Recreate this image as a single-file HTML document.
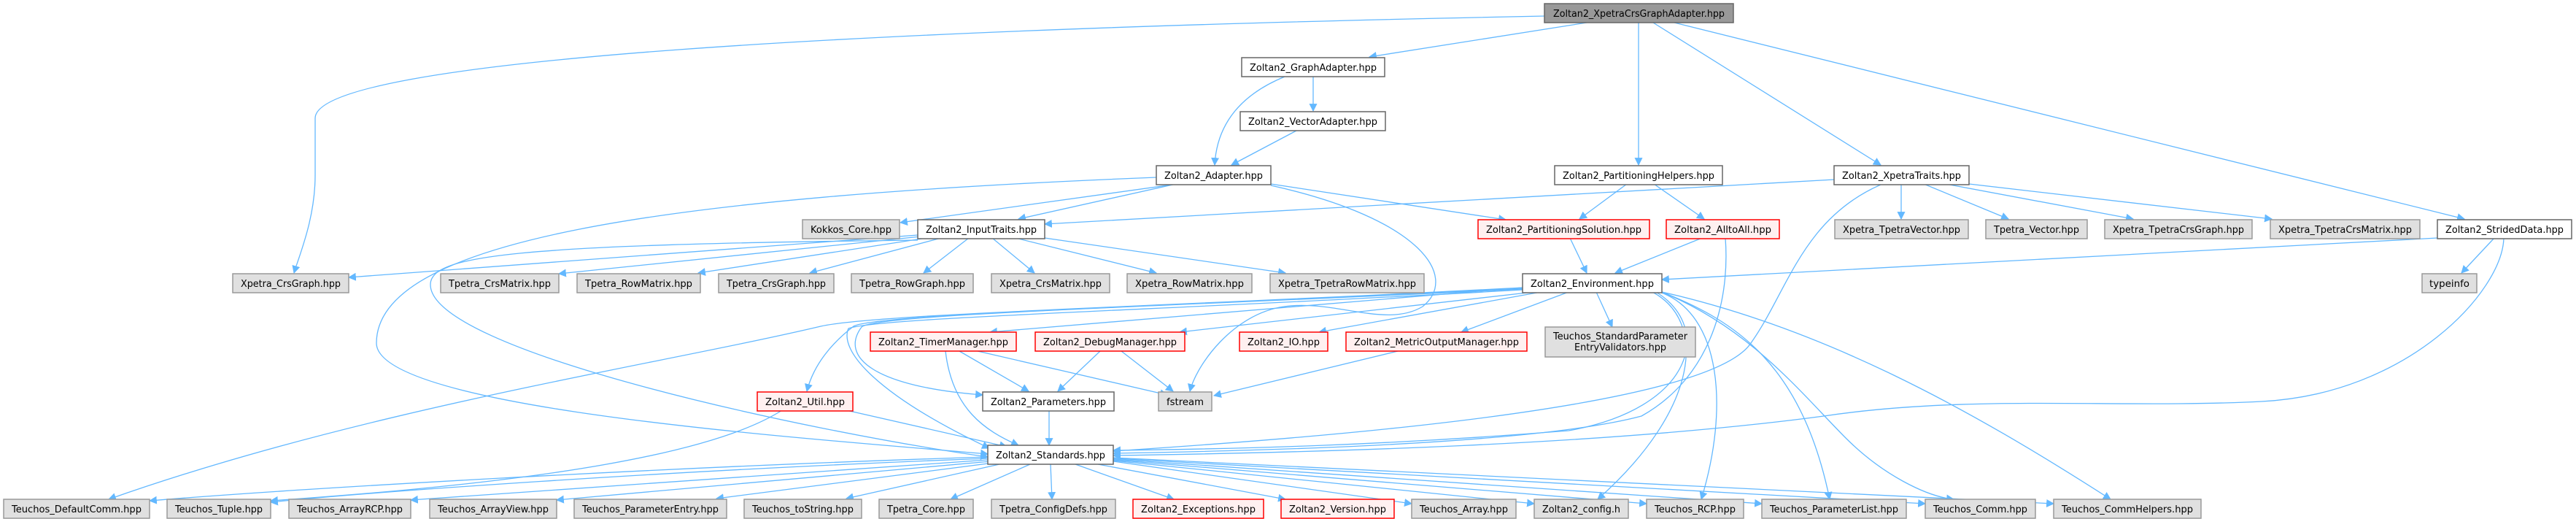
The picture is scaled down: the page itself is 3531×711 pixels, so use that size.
<!DOCTYPE html>
<html><head><meta charset="utf-8"><style>
html,body{margin:0;padding:0;background:#fff;}
svg{display:block;}
text{font-family:"DejaVu Sans","Liberation Sans",sans-serif;font-size:13px;fill:#000;}
.g{fill:#e0e0e0;stroke:#999;stroke-width:1.5}
.w{fill:#fff;stroke:#666;stroke-width:1.5}
.r{fill:#fff0f0;stroke:#f00;stroke-width:1.5}
.t{fill:#999;stroke:#666;stroke-width:1.5}
path.e{fill:none;stroke:#63b8ff;stroke-width:1.3}
</style></head><body>
<svg width="3531" height="711" viewBox="0 0 3531 711" xmlns="http://www.w3.org/2000/svg">
<defs><marker id="a" viewBox="0 0 10 10" refX="9" refY="5" markerWidth="11" markerHeight="11" markerUnits="userSpaceOnUse" orient="auto"><path d="M0,0 L10,5 L0,10 z" fill="#63b8ff"/></marker></defs>
<g marker-end="url(#a)">
<!-- top -->
<path class="e" d="M2117,22 C1200,40 432,80 432,162 L432,240 C432,300 410,350 403,374"/>
<path class="e" d="M2175,31 L1877,78"/>
<path class="e" d="M2246,31 L2246,226"/>
<path class="e" d="M2266,31 L2578,226"/>
<path class="e" d="M2295,31 L3378,300"/>
<path class="e" d="M1800,105 L1800,152"/>
<path class="e" d="M1761,105 C1700,130 1668,170 1665,226"/>
<path class="e" d="M1777,179 L1688,226"/>
<!-- Adapter -->
<path class="e" d="M1614,252 L1234,305"/>
<path class="e" d="M1612,252 L1396,300"/>
<path class="e" d="M1742,252 L2064,301"/>
<path class="e" d="M1742,254 C1950,300 2000,380 1950,420 C1900,450 1830,410 1760,420 C1690,430 1640,500 1631,536"/>
<path class="e" d="M1585,243 C900,270 516,330 516,470 C516,560 1100,600 1354,622"/>
<!-- InputTraits -->
<path class="e" d="M1258,322 L478,380"/>
<path class="e" d="M1262,324 L766,375"/>
<path class="e" d="M1270,326 L957,374"/>
<path class="e" d="M1290,326 L1110,374"/>
<path class="e" d="M1328,326 L1266,374"/>
<path class="e" d="M1360,326 L1418,374"/>
<path class="e" d="M1392,326 L1585,374"/>
<path class="e" d="M1432,326 L1762,374"/>
<path class="e" d="M1258,329 C700,335 590,350 590,390 C590,480 1100,590 1354,626"/>
<!-- Helpers -->
<path class="e" d="M2514,246 L1432,307"/>
<path class="e" d="M2230,252 L2165,300"/>
<path class="e" d="M2267,252 L2336,300"/>
<path class="e" d="M2152,326 L2175,374"/>
<path class="e" d="M2333,326 L2214,374"/>
<path class="e" d="M2365,326 C2372,420 2340,520 2250,570 C2100,610 1700,618 1526,621"/>
<!-- XpetraTraits -->
<path class="e" d="M2606,252 L2606,300"/>
<path class="e" d="M2637,252 L2753,300"/>
<path class="e" d="M2667,252 L2924,300"/>
<path class="e" d="M2699,252 L3114,300"/>
<path class="e" d="M2578,253 C2470,300 2450,400 2400,470 C2340,560 1800,600 1526,618"/>
<!-- StridedData -->
<path class="e" d="M3341,326 L2278,383"/>
<path class="e" d="M3419,326 L3374,374"/>
<path class="e" d="M3432,326 C3430,400 3300,540 3100,550 C2900,560 2700,540 2500,570 C2200,610 1800,620 1526,624"/>
<!-- Environment -->
<path class="e" d="M2087,394 L1357,455"/>
<path class="e" d="M2102,400 L1617,455"/>
<path class="e" d="M2112,400 L1808,455"/>
<path class="e" d="M2150,400 L2003,455"/>
<path class="e" d="M2188,400 L2210,448"/>
<path class="e" d="M2087,395 C1600,420 1200,430 1170,447 C1140,470 1115,500 1106,536"/>
<path class="e" d="M2087,394 C1600,420 1200,430 1125,447 C900,500 500,560 149,684"/>
<path class="e" d="M2087,396 C1600,420 1200,430 1181,448 C1150,490 1200,530 1347,541"/>
<path class="e" d="M2087,397 C1600,425 1200,435 1163,450 C1150,480 1200,540 1356,614"/>
<path class="e" d="M2265,400 C2340,440 2330,560 2190,684"/>
<path class="e" d="M2275,400 C2360,430 2370,560 2332,684"/>
<path class="e" d="M2278,400 C2380,440 2470,500 2508,684"/>
<path class="e" d="M2278,400 C2400,450 2470,540 2530,600 C2580,650 2640,680 2678,684"/>
<path class="e" d="M2278,400 C2500,450 2700,560 2893,684"/>
<path class="e" d="M2270,400 C2350,450 2320,560 2150,590 C1900,610 1700,615 1526,617"/>
<!-- Timer/Debug/Metric -->
<path class="e" d="M1315,481 L1410,536"/>
<path class="e" d="M1340,481 L1600,541"/>
<path class="e" d="M1296,481 C1305,560 1350,590 1396,610"/>
<path class="e" d="M1508,481 L1450,536"/>
<path class="e" d="M1537,481 L1608,536"/>
<path class="e" d="M1916,481 L1664,542"/>
<path class="e" d="M1438,562 L1438,610"/>
<path class="e" d="M1160,562 L1380,612"/>
<path class="e" d="M1072,562 C950,640 600,670 371,686"/>
<!-- Standards -->
<path class="e" d="M1354,626 C900,640 400,670 205,686"/>
<path class="e" d="M1354,628 C900,645 500,675 371,688"/>
<path class="e" d="M1354,630 L563,685"/>
<path class="e" d="M1358,632 L763,685"/>
<path class="e" d="M1362,634 L982,683"/>
<path class="e" d="M1370,636 L1160,683"/>
<path class="e" d="M1412,636 L1303,684"/>
<path class="e" d="M1440,636 L1442,684"/>
<path class="e" d="M1474,636 L1609,684"/>
<path class="e" d="M1505,636 L1762,684"/>
<path class="e" d="M1526,632 L1935,690"/>
<path class="e" d="M1526,631 L2103,690"/>
<path class="e" d="M1526,630 L2257,690"/>
<path class="e" d="M1526,629 L2415,690"/>
<path class="e" d="M1526,628 L2639,690"/>
<path class="e" d="M1526,627 L2815,690"/>
</g>
<!-- nodes -->
<g>
<rect class="t" x="2117" y="5" width="259" height="26"/><text x="2129" y="23" textLength="235" lengthAdjust="spacingAndGlyphs">Zoltan2_XpetraCrsGraphAdapter.hpp</text>
<rect class="w" x="1702" y="79" width="196" height="26"/><text x="1713" y="97" textLength="174" lengthAdjust="spacingAndGlyphs">Zoltan2_GraphAdapter.hpp</text>
<rect class="w" x="1700" y="153" width="199" height="26"/><text x="1711" y="171" textLength="177" lengthAdjust="spacingAndGlyphs">Zoltan2_VectorAdapter.hpp</text>
<rect class="w" x="1585" y="227" width="157" height="26"/><text x="1596" y="245" textLength="135" lengthAdjust="spacingAndGlyphs">Zoltan2_Adapter.hpp</text>
<rect class="w" x="2131" y="227" width="230" height="26"/><text x="2142" y="245" textLength="208" lengthAdjust="spacingAndGlyphs">Zoltan2_PartitioningHelpers.hpp</text>
<rect class="w" x="2514" y="227" width="185" height="26"/><text x="2525" y="245" textLength="163" lengthAdjust="spacingAndGlyphs">Zoltan2_XpetraTraits.hpp</text>

<rect class="g" x="1100" y="301" width="133" height="26"/><text x="1111" y="319" textLength="111" lengthAdjust="spacingAndGlyphs">Kokkos_Core.hpp</text>
<rect class="w" x="1258" y="301" width="174" height="26"/><text x="1269" y="319" textLength="152" lengthAdjust="spacingAndGlyphs">Zoltan2_InputTraits.hpp</text>
<rect class="r" x="2026" y="301" width="235" height="26"/><text x="2037" y="319" textLength="213" lengthAdjust="spacingAndGlyphs">Zoltan2_PartitioningSolution.hpp</text>
<rect class="r" x="2284" y="301" width="155" height="26"/><text x="2295" y="319" textLength="133" lengthAdjust="spacingAndGlyphs">Zoltan2_AlltoAll.hpp</text>
<rect class="g" x="2515" y="301" width="183" height="26"/><text x="2526" y="319" textLength="161" lengthAdjust="spacingAndGlyphs">Xpetra_TpetraVector.hpp</text>
<rect class="g" x="2722" y="301" width="139" height="26"/><text x="2733" y="319" textLength="117" lengthAdjust="spacingAndGlyphs">Tpetra_Vector.hpp</text>
<rect class="g" x="2885" y="301" width="202" height="26"/><text x="2896" y="319" textLength="180" lengthAdjust="spacingAndGlyphs">Xpetra_TpetraCrsGraph.hpp</text>
<rect class="g" x="3112" y="301" width="205" height="26"/><text x="3123" y="319" textLength="183" lengthAdjust="spacingAndGlyphs">Xpetra_TpetraCrsMatrix.hpp</text>
<rect class="w" x="3341" y="301" width="184" height="26"/><text x="3352" y="319" textLength="162" lengthAdjust="spacingAndGlyphs">Zoltan2_StridedData.hpp</text>

<rect class="g" x="319" y="375" width="159" height="26"/><text x="330" y="393" textLength="137" lengthAdjust="spacingAndGlyphs">Xpetra_CrsGraph.hpp</text>
<rect class="g" x="604" y="375" width="162" height="26"/><text x="615" y="393" textLength="140" lengthAdjust="spacingAndGlyphs">Tpetra_CrsMatrix.hpp</text>
<rect class="g" x="791" y="375" width="169" height="26"/><text x="802" y="393" textLength="147" lengthAdjust="spacingAndGlyphs">Tpetra_RowMatrix.hpp</text>
<rect class="g" x="985" y="375" width="158" height="26"/><text x="996" y="393" textLength="136" lengthAdjust="spacingAndGlyphs">Tpetra_CrsGraph.hpp</text>
<rect class="g" x="1167" y="375" width="167" height="26"/><text x="1178" y="393" textLength="145" lengthAdjust="spacingAndGlyphs">Tpetra_RowGraph.hpp</text>
<rect class="g" x="1359" y="375" width="162" height="26"/><text x="1370" y="393" textLength="140" lengthAdjust="spacingAndGlyphs">Xpetra_CrsMatrix.hpp</text>
<rect class="g" x="1545" y="375" width="171" height="26"/><text x="1556" y="393" textLength="149" lengthAdjust="spacingAndGlyphs">Xpetra_RowMatrix.hpp</text>
<rect class="g" x="1741" y="375" width="211" height="26"/><text x="1752" y="393" textLength="189" lengthAdjust="spacingAndGlyphs">Xpetra_TpetraRowMatrix.hpp</text>
<rect class="w" x="2087" y="375" width="191" height="26"/><text x="2098" y="393" textLength="169" lengthAdjust="spacingAndGlyphs">Zoltan2_Environment.hpp</text>
<rect class="g" x="3320" y="375" width="75" height="26"/><text x="3330" y="393" textLength="55" lengthAdjust="spacingAndGlyphs">typeinfo</text>

<rect class="r" x="1193" y="455" width="200" height="26"/><text x="1204" y="473" textLength="178" lengthAdjust="spacingAndGlyphs">Zoltan2_TimerManager.hpp</text>
<rect class="r" x="1419" y="455" width="205" height="26"/><text x="1430" y="473" textLength="183" lengthAdjust="spacingAndGlyphs">Zoltan2_DebugManager.hpp</text>
<rect class="r" x="1699" y="455" width="121" height="26"/><text x="1710" y="473" textLength="99" lengthAdjust="spacingAndGlyphs">Zoltan2_IO.hpp</text>
<rect class="r" x="1845" y="455" width="248" height="26"/><text x="1856" y="473" textLength="226" lengthAdjust="spacingAndGlyphs">Zoltan2_MetricOutputManager.hpp</text>
<rect class="g" x="2118" y="448" width="206" height="41"/><text x="2221" y="465" text-anchor="middle" textLength="184" lengthAdjust="spacingAndGlyphs">Teuchos_StandardParameter</text><text x="2221" y="480" text-anchor="middle" textLength="126" lengthAdjust="spacingAndGlyphs">EntryValidators.hpp</text>

<rect class="r" x="1038" y="537" width="131" height="26"/><text x="1049" y="555" textLength="109" lengthAdjust="spacingAndGlyphs">Zoltan2_Util.hpp</text>
<rect class="w" x="1347" y="537" width="180" height="26"/><text x="1358" y="555" textLength="158" lengthAdjust="spacingAndGlyphs">Zoltan2_Parameters.hpp</text>
<rect class="g" x="1588" y="537" width="73" height="26"/><text x="1599" y="555" textLength="51" lengthAdjust="spacingAndGlyphs">fstream</text>

<rect class="w" x="1354" y="610" width="172" height="26"/><text x="1365" y="628" textLength="150" lengthAdjust="spacingAndGlyphs">Zoltan2_Standards.hpp</text>

<rect class="g" x="5" y="684" width="200" height="26"/><text x="16" y="702" textLength="178" lengthAdjust="spacingAndGlyphs">Teuchos_DefaultComm.hpp</text>
<rect class="g" x="229" y="684" width="142" height="26"/><text x="240" y="702" textLength="120" lengthAdjust="spacingAndGlyphs">Teuchos_Tuple.hpp</text>
<rect class="g" x="396" y="684" width="167" height="26"/><text x="407" y="702" textLength="145" lengthAdjust="spacingAndGlyphs">Teuchos_ArrayRCP.hpp</text>
<rect class="g" x="589" y="684" width="174" height="26"/><text x="600" y="702" textLength="152" lengthAdjust="spacingAndGlyphs">Teuchos_ArrayView.hpp</text>
<rect class="g" x="787" y="684" width="209" height="26"/><text x="798" y="702" textLength="187" lengthAdjust="spacingAndGlyphs">Teuchos_ParameterEntry.hpp</text>
<rect class="g" x="1020" y="684" width="161" height="26"/><text x="1031" y="702" textLength="139" lengthAdjust="spacingAndGlyphs">Teuchos_toString.hpp</text>
<rect class="g" x="1205" y="684" width="129" height="26"/><text x="1216" y="702" textLength="107" lengthAdjust="spacingAndGlyphs">Tpetra_Core.hpp</text>
<rect class="g" x="1359" y="684" width="170" height="26"/><text x="1370" y="702" textLength="148" lengthAdjust="spacingAndGlyphs">Tpetra_ConfigDefs.hpp</text>
<rect class="r" x="1553" y="684" width="179" height="26"/><text x="1564" y="702" textLength="157" lengthAdjust="spacingAndGlyphs">Zoltan2_Exceptions.hpp</text>
<rect class="r" x="1756" y="684" width="155" height="26"/><text x="1767" y="702" textLength="133" lengthAdjust="spacingAndGlyphs">Zoltan2_Version.hpp</text>
<rect class="g" x="1935" y="684" width="143" height="26"/><text x="1946" y="702" textLength="121" lengthAdjust="spacingAndGlyphs">Teuchos_Array.hpp</text>
<rect class="g" x="2103" y="684" width="129" height="26"/><text x="2114" y="702" textLength="107" lengthAdjust="spacingAndGlyphs">Zoltan2_config.h</text>
<rect class="g" x="2257" y="684" width="133" height="26"/><text x="2268" y="702" textLength="111" lengthAdjust="spacingAndGlyphs">Teuchos_RCP.hpp</text>
<rect class="g" x="2415" y="684" width="198" height="26"/><text x="2426" y="702" textLength="176" lengthAdjust="spacingAndGlyphs">Teuchos_ParameterList.hpp</text>
<rect class="g" x="2639" y="684" width="151" height="26"/><text x="2650" y="702" textLength="129" lengthAdjust="spacingAndGlyphs">Teuchos_Comm.hpp</text>
<rect class="g" x="2815" y="684" width="202" height="26"/><text x="2826" y="702" textLength="180" lengthAdjust="spacingAndGlyphs">Teuchos_CommHelpers.hpp</text>
</g>
</svg>
</body></html>
